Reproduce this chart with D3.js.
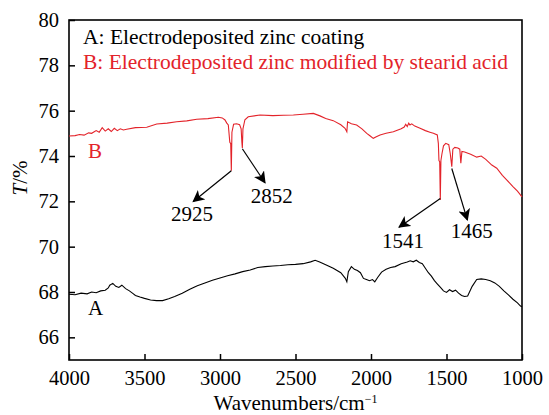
<!DOCTYPE html>
<html>
<head>
<meta charset="utf-8">
<script src="https://cdn.jsdelivr.net/npm/d3@7.9.0/dist/d3.min.js"></script>
<style>
  body { margin: 0; background: #fff; }
</style>
</head>
<body>
<svg id="chart" width="549" height="415"></svg>
<script>
// spectrum A: electrodeposited zinc coating
const waveA = [4000, 3960, 3920, 3880, 3850, 3820, 3790, 3760, 3740, 3730, 3710, 3690, 3670, 3650, 3625, 3600,
  3580, 3560, 3530, 3500, 3460, 3420, 3380, 3340, 3300, 3250, 3200, 3150, 3100, 3050, 3000, 2950, 2900,
  2850, 2800, 2750, 2700, 2650, 2600, 2550, 2500, 2450, 2400, 2370, 2340, 2300, 2250, 2200, 2170, 2160,
  2150, 2130, 2110, 2090, 2070, 2050, 2030, 2010, 1990, 1975, 1955, 1930, 1900, 1870, 1840, 1800, 1760,
  1740, 1720, 1700, 1680, 1660, 1640, 1620, 1600, 1580, 1560, 1540, 1520, 1500, 1480, 1460, 1440, 1420,
  1400, 1380, 1360, 1330, 1300, 1270, 1240, 1210, 1180, 1150, 1120, 1090, 1060, 1030, 1010, 1000];
const transA = [67.9, 67.88, 67.95, 67.92, 68.0, 67.97, 68.05, 68.08, 68.18, 68.3, 68.38, 68.25, 68.2, 68.3, 68.15, 68.05,
  67.95, 67.85, 67.78, 67.72, 67.65, 67.62, 67.62, 67.7, 67.8, 67.95, 68.12, 68.28, 68.4, 68.52, 68.62, 68.72, 68.8,
  68.9, 68.97, 69.08, 69.12, 69.15, 69.17, 69.2, 69.22, 69.25, 69.33, 69.4, 69.32, 69.2, 69.05, 68.85, 68.6, 68.45,
  68.9, 69.12, 69.0, 68.95, 68.85, 68.6, 68.55, 68.5, 68.55, 68.45, 68.65, 68.88, 69.0, 69.08, 69.12, 69.25, 69.32,
  69.38, 69.33, 69.4, 69.3, 69.25, 69.05, 68.85, 68.7, 68.5, 68.35, 68.2, 68.05, 67.98, 68.1, 68.02, 68.08, 67.95,
  67.85, 67.8, 67.82, 68.25, 68.55, 68.58, 68.55, 68.5, 68.4, 68.25, 68.05, 67.87, 67.68, 67.52, 67.38, 67.35];

// spectrum B: zinc modified by stearic acid
const waveB = [4000, 3960, 3930, 3900, 3870, 3850, 3820, 3800, 3780, 3760, 3740, 3720, 3700, 3680, 3660, 3640,
  3618, 3560, 3485, 3419, 3350, 3287, 3220, 3154, 3080, 3011, 2985, 2967, 2955, 2945, 2935, 2929, 2925,
  2921, 2910, 2890, 2870, 2860, 2855, 2852, 2848, 2835, 2813, 2735, 2650, 2580, 2514, 2450, 2382, 2338, 2300,
  2250, 2200, 2172, 2160, 2155, 2130, 2095, 2060, 2028, 2005, 1985, 1965, 1940, 1900, 1852, 1800, 1780,
  1770, 1760, 1750, 1742, 1730, 1710, 1675, 1640, 1610, 1587, 1561, 1554, 1550, 1545, 1541, 1537, 1530,
  1520, 1505, 1485, 1475, 1465, 1458, 1445, 1425, 1412, 1405, 1398, 1380, 1340, 1300, 1270, 1240, 1200,
  1167, 1130, 1100, 1060, 1030, 1000];
const transB = [74.88, 74.9, 74.95, 74.92, 75.02, 75.0, 75.12, 75.05, 75.25, 75.1, 75.2, 75.08, 75.22, 75.12, 75.2, 75.15,
  75.18, 75.25, 75.27, 75.41, 75.45, 75.51, 75.55, 75.62, 75.65, 75.71, 75.68, 75.59, 75.45, 75.37, 74.6, 74.55, 73.35,
  75.05, 75.4, 75.42, 75.38, 75.2, 74.6, 74.35, 75.2, 75.6, 75.73, 75.81, 75.78, 75.8, 75.81, 75.84, 75.88, 75.77, 75.65,
  75.56, 75.38, 75.22, 75.07, 75.51, 75.42, 75.37, 75.2, 75.0, 74.88, 74.78, 74.85, 74.93, 75.0, 75.07, 75.2, 75.28,
  75.4, 75.3, 75.45, 75.37, 75.42, 75.32, 75.22, 75.12, 75.05, 75.0, 74.93, 74.56, 73.8, 73.75, 72.06, 73.8, 74.1,
  74.45, 74.56, 74.5, 74.1, 73.53, 74.3, 74.38, 74.35, 74.3, 73.68, 74.2, 74.18, 74.08, 73.95, 74.0, 73.85, 73.6,
  73.46, 73.15, 72.94, 72.65, 72.45, 72.2];

const xTicks = [4000, 3500, 3000, 2500, 2000, 1500, 1000];
const yTicks = [66, 68, 70, 72, 74, 76, 78, 80];

// peak labels: where the arrow starts, where its tip ends, where the number sits
const peaks = [
  { label: "2925", w: 2925, t: 73.35, tipW: 3177, tipT: 71.99, textW: 3185, textT: 71.13 },
  { label: "2852", w: 2852, t: 74.32, tipW: 2702, tipT: 72.82, textW: 2658, textT: 71.93 },
  { label: "1541", w: 1541, t: 72.12, tipW: 1814, tipT: 70.86, textW: 1788, textT: 69.94 },
  { label: "1465", w: 1465, t: 73.45, tipW: 1362, tipT: 71.18, textW: 1333, textT: 70.37 },
];

const red = "#e3232a";
const font = '"Liberation Serif", "Tinos", serif';
const margin = { top: 20, right: 27, bottom: 55, left: 69 };
const W = 549 - margin.left - margin.right;
const H = 415 - margin.top - margin.bottom;

const svg = d3.select("#chart");
const g = svg.append("g").attr("transform", `translate(${margin.left},${margin.top})`);

const x = d3.scaleLinear().domain([4000, 1000]).range([0, W]);
const y = d3.scaleLinear().domain([65, 80]).range([H, 0]);

// axes, ticks pointing inward
const xAxis = g.append("g")
  .attr("transform", `translate(0,${H})`)
  .call(d3.axisBottom(x).tickValues(xTicks).tickFormat(d3.format("d"))
    .tickSizeInner(-6).tickSizeOuter(0).tickPadding(10));
const yAxis = g.append("g")
  .call(d3.axisLeft(y).tickValues(yTicks).tickFormat(d3.format("d"))
    .tickSizeInner(-6).tickSizeOuter(0).tickPadding(10));

[xAxis, yAxis].forEach((ax) => {
  ax.attr("font-family", font).attr("font-size", 20.5);
  ax.select(".domain").remove();
  ax.selectAll(".tick line").attr("stroke", "#000").attr("stroke-width", 1.5);
  ax.selectAll(".tick text").attr("fill", "#000");
});

g.append("rect")
  .attr("width", W).attr("height", H)
  .attr("fill", "none").attr("stroke", "#000").attr("stroke-width", 1.6);

const line = d3.line().x((d) => x(d[0])).y((d) => y(d[1]));

g.append("path")
  .datum(d3.zip(waveA, transA))
  .attr("d", line)
  .attr("fill", "none").attr("stroke", "#000").attr("stroke-width", 1.1);

g.append("path")
  .datum(d3.zip(waveB, transB))
  .attr("d", line)
  .attr("fill", "none").attr("stroke", red).attr("stroke-width", 1.1);

// arrowhead
svg.append("defs").append("marker")
  .attr("id", "arrow")
  .attr("viewBox", "0 0 10 10")
  .attr("refX", 9).attr("refY", 5)
  .attr("markerWidth", 12).attr("markerHeight", 12)
  .attr("markerUnits", "userSpaceOnUse")
  .attr("orient", "auto")
  .append("path").attr("d", "M0,0 L10,5 L0,10 L2.5,5 Z").attr("fill", "#000");

peaks.forEach((p) => {
  g.append("line")
    .attr("x1", x(p.w)).attr("y1", y(p.t))
    .attr("x2", x(p.tipW)).attr("y2", y(p.tipT))
    .attr("stroke", "#000").attr("stroke-width", 1.2)
    .attr("marker-end", "url(#arrow)");
  g.append("text")
    .attr("x", x(p.textW)).attr("y", y(p.textT))
    .attr("text-anchor", "middle")
    .attr("font-family", font).attr("font-size", 21)
    .text(p.label);
});

// legend and curve letters
g.append("text").attr("x", 14).attr("y", 24).attr("font-family", font).attr("font-size", 21.5)
  .text("A: Electrodeposited zinc coating");
g.append("text").attr("x", 14).attr("y", 49).attr("font-family", font).attr("font-size", 21.5).attr("fill", red)
  .text("B: Electrodeposited zinc modified by stearid acid");

g.append("text").attr("x", x(3875)).attr("y", y(67.0)).attr("font-family", font).attr("font-size", 21).text("A");
g.append("text").attr("x", x(3875)).attr("y", y(73.9)).attr("font-family", font).attr("font-size", 21)
  .attr("fill", red).text("B");

// axis titles
const xt = svg.append("text")
  .attr("x", margin.left + W / 2).attr("y", 410)
  .attr("text-anchor", "middle").attr("font-family", font).attr("font-size", 21);
xt.append("tspan").text("Wavenumbers/cm");
xt.append("tspan").attr("dy", "-0.55em").attr("font-size", 12).text("\u22121");

const yt = svg.append("text")
  .attr("transform", "translate(27,178) rotate(-90)")
  .attr("text-anchor", "middle").attr("font-family", font).attr("font-size", 21);
yt.append("tspan").attr("font-style", "italic").text("T");
yt.append("tspan").text("/%");
</script>
</body>
</html>
